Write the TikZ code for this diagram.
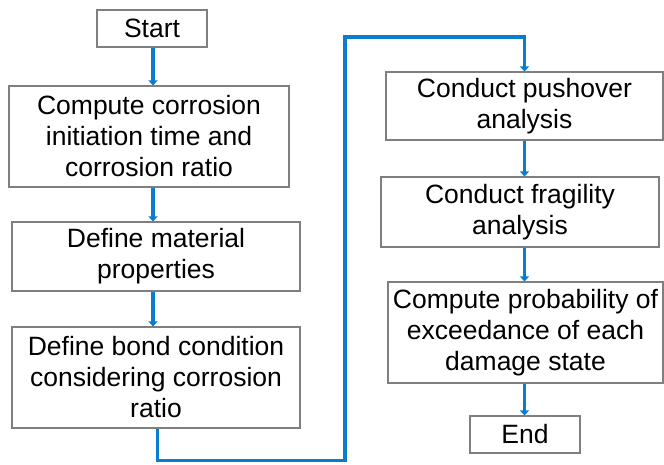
\documentclass[tikz,border=0pt]{standalone}
\usepackage{fontspec}
\setmainfont{Liberation Sans}
\usetikzlibrary{arrows.meta}
\definecolor{flowblue}{HTML}{0A7CCF}
\definecolor{boxgray}{HTML}{7F7F7F}

\begin{document}
\begin{tikzpicture}[x=1pt,y=-1pt,
  box/.style={draw=boxgray,line width=1.1pt,fill=white,align=center,inner sep=0pt,
    font=\fontsize{26.5}{31}\selectfont},
  flow/.style={draw=flowblue,line width=3.2pt,-{Triangle[width=9pt,length=5pt]}}]
\useasboundingbox (0,0) rectangle (664,464);
% left column
\node[box,minimum width=110,minimum height=37] (start) at (152,28.5) {Start};
\node[box,minimum width=280,minimum height=101] (corr) at (149,136.5) {Compute corrosion\\initiation time and\\corrosion ratio};
\node[box,minimum width=288,minimum height=69] (mat) at (156,256.5) {Define material\\properties};
\node[box,minimum width=288,minimum height=101] (bond) at (156,377.5) {Define bond condition\\considering corrosion\\ratio};
% right column
\node[box,minimum width=277,minimum height=68] (push) at (524.5,106) {Conduct pushover\\analysis};
\node[box,minimum width=278,minimum height=70] (frag) at (520,212) {Conduct fragility\\analysis};
\node[box,minimum width=275,minimum height=101] (prob) at (525.5,332.5) {Compute probability of\\exceedance of each\\damage state};
\node[box,minimum width=110,minimum height=37] (end) at (525,434.5) {End};
% arrows
\draw[flow] ([xshift=1pt]start.south) -- ([xshift=1pt]start.south |- corr.north);
\draw[flow] ([xshift=-3pt]mat.north |- corr.south) -- ([xshift=-3pt]mat.north);
\draw[flow] ([xshift=-3pt]mat.south) -- ([xshift=-3pt]bond.north);
\draw[flow] ([xshift=1.5pt]bond.south) -- ++(0,32) -| (345,37) -| (push.north);
\draw[flow] (push.south) -- (push.south |- frag.north);
\draw[flow] (push.south |- frag.south) -- (push.south |- prob.north);
\draw[flow] (push.south |- prob.south) -- (push.south |- end.north);
\end{tikzpicture}
\end{document}
